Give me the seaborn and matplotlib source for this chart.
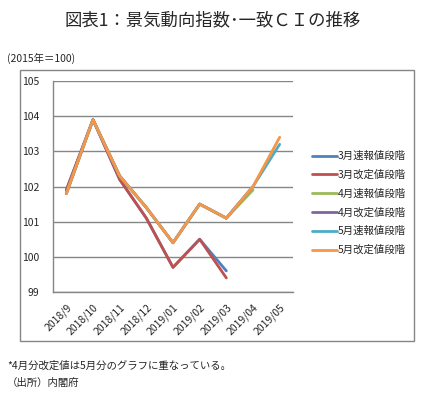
import matplotlib
matplotlib.use("Agg")
from matplotlib import pyplot as plt
from matplotlib.patches import Rectangle
import seaborn as sns

months = ["2018/9", "2018/10", "2018/11", "2018/12", "2019/01",
          "2019/02", "2019/03", "2019/04", "2019/05"]

mar_prelim = [101.9, 103.9, 102.2, 101.1, 99.7, 100.5, 99.6]
mar_revised = [101.9, 103.9, 102.2, 101.1, 99.7, 100.5, 99.4]
apr_prelim = [101.8, 103.9, 102.3, 101.4, 100.4, 101.5, 101.1, 101.9]
apr_revised = [101.8, 103.9, 102.3, 101.4, 100.4, 101.5, 101.1, 102.0]
may_prelim = [101.8, 103.9, 102.3, 101.4, 100.4, 101.5, 101.1, 102.0, 103.2]
may_revised = [101.8, 103.9, 102.3, 101.4, 100.4, 101.5, 101.1, 102.0, 103.4]

series_names = ["3月速報値段階", "3月改定値段階", "4月速報値段階",
                "4月改定値段階", "5月速報値段階", "5月改定値段階"]
series_values = [mar_prelim, mar_revised, apr_prelim,
                 apr_revised, may_prelim, may_revised]
colors = ["#4F81BD", "#C0504D", "#9BBB59", "#8064A2", "#4BACC6", "#F79646"]

y_ticks = [99, 100, 101, 102, 103, 104, 105]

sns.set_style("white")
plt.rcParams["font.family"] = ["Noto Sans CJK JP", "DejaVu Sans"]

fig = plt.figure(figsize=(4.43, 3.94), dpi=100)
ax = fig.add_axes([53 / 443, 1 - 292 / 394, 240 / 443, 211 / 394])

# outer chart frame
fig.patches.append(Rectangle((20 / 443, 1 - 341 / 394), 394 / 443, 271 / 394,
                             transform=fig.transFigure, fill=False,
                             edgecolor="#868686", linewidth=1.0, zorder=0))

pos = list(range(len(months)))
for name, vals, col in zip(series_names, series_values, colors):
    sns.lineplot(x=pos[:len(vals)], y=vals, ax=ax, color=col, label=name,
                 linewidth=2.0, sort=False)

ax.set_xlim(-0.5, len(months) - 0.5)
ax.set_ylim(99, 105)
ax.set_yticks(y_ticks)
ax.set_yticklabels([str(v) for v in y_ticks], fontsize=7.5)
ax.set_xticks([p - 0.5 for p in pos] + [len(months) - 0.5], minor=False)
ax.set_xticklabels([])
ax.set_xticks(pos, minor=True)
ax.set_xticklabels(months, minor=True, rotation=45, ha="right",
                   rotation_mode="anchor", fontsize=7.5)
ax.tick_params(axis="x", which="major", direction="out", length=4,
               color="#868686", width=1)
ax.tick_params(axis="x", which="minor", length=0, pad=7)
ax.tick_params(axis="y", direction="out", length=4, color="#868686",
               width=1, pad=6)
ax.grid(axis="y", color="#868686", linewidth=1)
for side in ["top", "right"]:
    ax.spines[side].set_visible(False)
for side in ["left", "bottom"]:
    ax.spines[side].set_color("#868686")
    ax.spines[side].set_linewidth(1)
ax.set_xlabel("")
ax.set_ylabel("")

ax.legend(loc="upper left", bbox_to_anchor=(308 / 443, 1 - 147 / 394),
          bbox_transform=fig.transFigure, frameon=False, fontsize=7.5,
          handlelength=2.4, handletextpad=0.05, labelspacing=0.82,
          borderaxespad=0)

fig.text(213 / 443, 1 - 20 / 394, "図表1：景気動向指数･一致ＣＩの推移",
         ha="center", va="center", fontsize=12.5)
fig.text(7 / 443, 1 - 58 / 394, "(2015年＝100)", ha="left", va="center",
         fontsize=7.5)
fig.text(7 / 443, 1 - 366 / 394, "*4月分改定値は5月分のグラフに重なっている。",
         ha="left", va="center", fontsize=7.5)
fig.text(7 / 443, 1 - 383 / 394, "（出所）内閣府", ha="left", va="center",
         fontsize=7.5)

fig.savefig("out.png", dpi=100)
